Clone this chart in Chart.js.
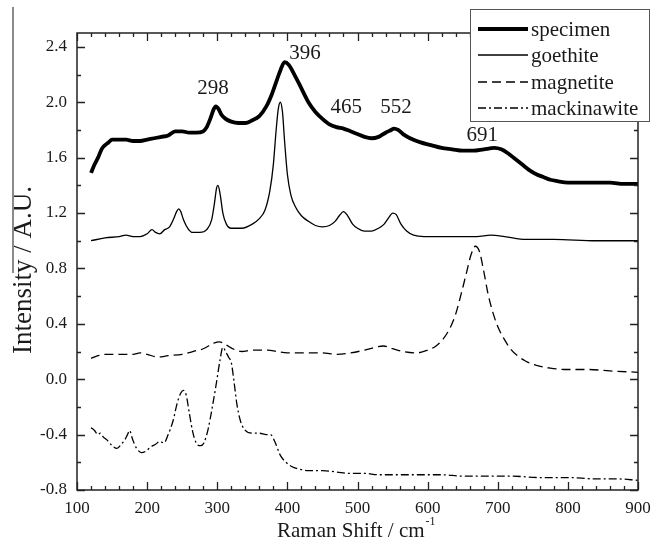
<!DOCTYPE html>
<html>
<head>
<meta charset="utf-8">
<script src="https://cdn.jsdelivr.net/npm/chart.js@4"></script>
<style>
  html, body { margin: 0; padding: 0; background: #fff; }
  #wrap { width: 651px; height: 545px; position: relative; }
</style>
</head>
<body>
<div id="wrap"><canvas id="raman"></canvas></div>
<script>
/* Raman spectra: specimen vs reference minerals */

const xTickVals = [100, 200, 300, 400, 500, 600, 700, 800, 900];
const yTickVals = [-0.8, -0.4, 0.0, 0.4, 0.8, 1.2, 1.6, 2.0, 2.4];

const seriesNames = ['specimen', 'goethite', 'magnetite', 'mackinawite'];

const specimenX = [120,125,130,135,140,145,150,160,170,180,190,200,210,220,230,240,250,260,270,280,285,290,295,298,302,306,312,320,330,340,350,360,370,378,385,390,396,402,410,420,430,440,450,460,470,480,490,500,510,520,530,540,548,552,558,565,575,590,605,620,635,650,665,680,695,705,715,725,735,745,755,765,775,785,800,820,840,860,880,900];
const specimenY = [1.49,1.55,1.60,1.66,1.69,1.71,1.73,1.73,1.73,1.72,1.72,1.73,1.74,1.75,1.76,1.79,1.79,1.78,1.78,1.79,1.82,1.88,1.95,1.97,1.95,1.91,1.88,1.86,1.85,1.85,1.87,1.90,1.97,2.06,2.16,2.23,2.29,2.27,2.20,2.10,2.00,1.93,1.88,1.84,1.82,1.81,1.79,1.77,1.75,1.74,1.75,1.78,1.80,1.81,1.80,1.77,1.74,1.71,1.69,1.67,1.66,1.65,1.65,1.66,1.67,1.66,1.63,1.59,1.55,1.51,1.48,1.46,1.44,1.43,1.42,1.42,1.42,1.42,1.41,1.41];

const goethiteX = [120,140,160,170,180,190,200,207,212,218,225,232,238,242,245,248,252,258,265,275,285,292,296,299,301,304,308,313,320,335,350,360,368,375,380,384,387,390,393,396,400,405,412,420,430,440,450,460,468,474,480,486,493,500,510,520,530,538,545,550,555,562,570,580,595,620,650,670,690,710,740,780,840,900];
const goethiteY = [1.00,1.02,1.03,1.04,1.03,1.03,1.05,1.08,1.06,1.05,1.08,1.10,1.16,1.21,1.23,1.21,1.15,1.09,1.06,1.06,1.08,1.15,1.27,1.38,1.40,1.34,1.20,1.12,1.09,1.09,1.12,1.16,1.22,1.36,1.55,1.80,1.95,2.00,1.93,1.72,1.48,1.33,1.24,1.18,1.14,1.11,1.10,1.11,1.14,1.18,1.21,1.18,1.12,1.09,1.07,1.07,1.09,1.12,1.17,1.20,1.19,1.12,1.07,1.04,1.03,1.03,1.03,1.03,1.04,1.03,1.01,1.01,1.00,1.00];

const magnetiteX = [120,130,140,160,180,190,200,215,230,250,265,280,295,303,312,322,335,350,372,385,400,420,450,470,490,510,525,537,550,565,585,600,612,622,632,640,648,655,662,668,674,680,686,692,700,708,718,728,740,755,775,800,830,860,900];
const magnetiteY = [0.15,0.17,0.18,0.18,0.18,0.19,0.18,0.16,0.17,0.18,0.20,0.22,0.26,0.27,0.25,0.22,0.20,0.21,0.21,0.20,0.19,0.19,0.19,0.18,0.19,0.21,0.23,0.24,0.22,0.20,0.19,0.21,0.24,0.29,0.37,0.47,0.62,0.76,0.90,0.96,0.92,0.78,0.62,0.50,0.38,0.30,0.22,0.17,0.13,0.10,0.08,0.07,0.07,0.06,0.05];

const mackinawiteX = [120,125,130,133,138,143,150,157,163,168,172,175,179,185,192,198,205,212,218,224,230,237,243,248,252,256,260,265,270,276,281,287,293,299,304,308,312,316,320,324,328,333,340,350,360,370,376,382,390,398,406,418,430,450,470,490,510,530,560,590,620,650,690,720,760,800,840,870,900];
const mackinawiteY = [-0.35,-0.37,-0.40,-0.39,-0.42,-0.44,-0.48,-0.50,-0.47,-0.44,-0.40,-0.37,-0.43,-0.50,-0.53,-0.52,-0.49,-0.47,-0.45,-0.46,-0.40,-0.30,-0.17,-0.10,-0.08,-0.12,-0.24,-0.38,-0.46,-0.48,-0.46,-0.36,-0.20,-0.02,0.14,0.23,0.20,0.16,0.12,-0.02,-0.18,-0.30,-0.37,-0.39,-0.39,-0.40,-0.40,-0.45,-0.55,-0.60,-0.63,-0.65,-0.66,-0.66,-0.67,-0.68,-0.68,-0.69,-0.69,-0.69,-0.69,-0.70,-0.70,-0.70,-0.71,-0.71,-0.72,-0.72,-0.73];

// peak annotations: text, x (cm-1), y (A.U.)
const peakTexts = ['298', '396', '465', '552', '691'];
const peakX = [294, 425, 484, 555, 678];
const peakY = [2.10, 2.355, 1.96, 1.96, 1.76];

const SERIF = "'Liberation Serif', 'Times New Roman', serif";
const INK = '#1a1a1a';

function pts(xs, ys) {
  return xs.map((x, i) => ({ x, y: ys[i] }));
}

const lineStyles = [
  { width: 3.8, dash: [] },
  { width: 1.3, dash: [] },
  { width: 1.3, dash: [9, 5] },
  { width: 1.3, dash: [8, 3, 2, 3] },
];

const seriesData = [
  pts(specimenX, specimenY),
  pts(goethiteX, goethiteY),
  pts(magnetiteX, magnetiteY),
  pts(mackinawiteX, mackinawiteY),
];

const framePlugin = {
  id: 'frame',
  afterDatasetsDraw(chart) {
    const { ctx, chartArea: a, scales: { x, y } } = chart;
    ctx.save();

    // frame
    ctx.strokeStyle = '#222';
    ctx.lineWidth = 1.5;
    ctx.strokeRect(a.left, a.top, a.right - a.left, a.bottom - a.top);

    // inward ticks, major + minor
    ctx.lineWidth = 1.3;
    ctx.beginPath();
    for (let v = 100; v <= 900; v += 20) {
      const px = Math.round(x.getPixelForValue(v)) + 0.5;
      const len = xTickVals.includes(v) ? 8 : 4;
      ctx.moveTo(px, a.bottom); ctx.lineTo(px, a.bottom - len);
      ctx.moveTo(px, a.top); ctx.lineTo(px, a.top + len);
    }
    for (let k = -4; k <= 12; k++) {
      const v = k * 0.2;
      const py = Math.round(y.getPixelForValue(v)) + 0.5;
      const len = k % 2 === 0 ? 8 : 4;
      ctx.moveTo(a.left, py); ctx.lineTo(a.left + len, py);
      ctx.moveTo(a.right, py); ctx.lineTo(a.right - len, py);
    }
    ctx.stroke();

    // peak labels
    ctx.fillStyle = INK;
    ctx.font = '21px ' + SERIF;
    ctx.textAlign = 'center';
    ctx.textBaseline = 'middle';
    peakTexts.forEach((t, i) => {
      ctx.fillText(t, x.getPixelForValue(peakX[i]), y.getPixelForValue(peakY[i]));
    });

    // legend box (sits over the top-right of the frame)
    const bx = 470, by = 9, bw = 180, bh = 113;
    ctx.fillStyle = '#fff';
    ctx.fillRect(bx, by, bw, bh);
    ctx.strokeStyle = '#555';
    ctx.lineWidth = 1;
    ctx.strokeRect(bx + 0.5, by + 0.5, bw - 1, bh - 1);
    const rows = [29, 55, 82, 108];
    ctx.textAlign = 'left';
    ctx.font = '21px ' + SERIF;
    seriesNames.forEach((name, i) => {
      ctx.strokeStyle = '#000';
      ctx.lineWidth = lineStyles[i].width;
      ctx.setLineDash(lineStyles[i].dash);
      ctx.beginPath();
      ctx.moveTo(478, rows[i]); ctx.lineTo(528, rows[i]);
      ctx.stroke();
      ctx.setLineDash([]);
      ctx.fillStyle = INK;
      ctx.fillText(name, 531, rows[i] + 1);
    });

    // axis titles
    ctx.textAlign = 'left';
    ctx.textBaseline = 'alphabetic';
    ctx.font = '21px ' + SERIF;
    const main = 'Raman Shift / cm';
    const w = ctx.measureText(main).width;
    const tx = 277;
    ctx.fillText(main, tx, 537);
    ctx.font = '12px ' + SERIF;
    ctx.fillText('-1', tx + w + 1, 525);

    ctx.save();
    ctx.translate(31, 270);
    ctx.rotate(-Math.PI / 2);
    ctx.textAlign = 'center';
    ctx.font = '27px ' + SERIF;
    ctx.fillText('Intensity / A.U.', 0, 0);
    ctx.restore();

    // faint scan edge left of the y title
    ctx.strokeStyle = '#8a8a8a';
    ctx.lineWidth = 2;
    ctx.beginPath();
    ctx.moveTo(13, 7); ctx.lineTo(13, 273);
    ctx.stroke();

    ctx.restore();
  }
};

new Chart(document.getElementById('raman'), {
  type: 'line',
  data: {
    datasets: seriesNames.map((name, i) => ({
      label: name,
      data: seriesData[i],
      borderColor: '#000',
      borderWidth: lineStyles[i].width,
      borderDash: lineStyles[i].dash,
      pointRadius: 0,
      fill: false,
      cubicInterpolationMode: 'monotone',
    }))
  },
  options: {
    responsive: true,
    maintainAspectRatio: false,
    animation: false,
    layout: { padding: { top: 33, right: 13, left: 0, bottom: 0 } },
    plugins: {
      legend: { display: false },
      tooltip: { enabled: false },
    },
    scales: {
      x: {
        type: 'linear',
        min: 100,
        max: 900,
        // grid hidden; tickLength only reserves the gap under the axis
        grid: { display: false, drawTicks: true, tickLength: 8 },
        border: { display: false },
        afterBuildTicks: (s) => { s.ticks = xTickVals.map(v => ({ value: v })); },
        afterFit: (s) => { s.height = 55; },
        ticks: {
          color: INK,
          padding: 0,
          maxRotation: 0,
          font: { family: SERIF, size: 17 },
          callback: (v) => String(v),
        },
      },
      y: {
        type: 'linear',
        min: -0.8,
        max: 2.5,
        grid: { display: false, drawTicks: true, tickLength: 10 },
        border: { display: false },
        afterBuildTicks: (s) => { s.ticks = yTickVals.map(v => ({ value: v })); },
        afterFit: (s) => { s.width = 77; },
        ticks: {
          color: INK,
          padding: 0,
          font: { family: SERIF, size: 17 },
          callback: (v) => Number(v).toFixed(1),
        },
      },
    },
  },
  plugins: [framePlugin],
});
</script>
</body>
</html>
